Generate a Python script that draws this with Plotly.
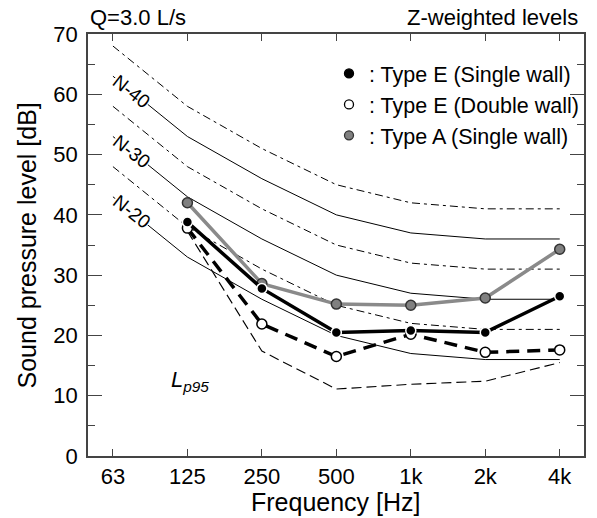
import plotly.graph_objects as go

# ---------------- data ----------------
freq_labels = ["63", "125", "250", "500", "1k", "2k", "4k"]
xi = list(range(len(freq_labels)))

N45 = [68, 58, 51, 45, 42, 41, 41]
N40 = [63, 53, 46, 40, 37, 36, 36]
N35 = [58, 48, 41, 35, 32, 31, 31]
N30 = [53, 43, 36, 30, 27, 26, 26]
N25 = [48, 38, 31, 25, 22, 21, 21]
N20 = [43, 33, 26, 20, 17, 16, 16]

Lp95 = [None, 37.3, 17.4, 11.1, 11.9, 12.4, 15.5]

typeE_single = [None, 38.8, 27.8, 20.5, 20.8, 20.5, 26.5]
typeE_double = [None, 37.8, 21.9, 16.5, 20.2, 17.2, 17.6]
typeA_single = [None, 42.0, 28.6, 25.2, 25.0, 26.2, 34.3]

font = "Liberation Sans, Arial, sans-serif"

fig = go.Figure()

# N-curves
for vals, solid in [(N45, False), (N40, True), (N35, False), (N30, True), (N25, False), (N20, True)]:
    fig.add_trace(go.Scatter(
        x=xi, y=vals, mode="lines", showlegend=False, hoverinfo="skip",
        line=dict(color="black", width=1, dash=None if solid else "8px,4px,3px,4px"),
    ))

# Lp95
fig.add_trace(go.Scatter(x=xi, y=Lp95, mode="lines", showlegend=False,
                         line=dict(color="black", width=1.1, dash="10px,5px")))

# series
fig.add_trace(go.Scatter(x=xi, y=typeA_single, mode="lines+markers", showlegend=False,
                         line=dict(color="#8a8a8a", width=3.5),
                         marker=dict(size=10, color="#808080", line=dict(color="#333333", width=1.5))))
fig.add_trace(go.Scatter(x=xi, y=typeE_double, mode="lines+markers", showlegend=False,
                         line=dict(color="black", width=3.5, dash="13px,8px"),
                         marker=dict(size=10, color="white", line=dict(color="black", width=1.5))))
fig.add_trace(go.Scatter(x=xi, y=typeE_single, mode="lines+markers", showlegend=False,
                         line=dict(color="black", width=3.5),
                         marker=dict(size=10, color="black", line=dict(color="white", width=1.5))))

# legend-only entries
leg = [
    (": Type E (Single wall)", "black", "black"),
    (": Type E (Double wall)", "white", "black"),
    (": Type A (Single wall)", "#808080", "#333333"),
]
for name, fc, lc in leg:
    fig.add_trace(go.Scatter(x=[None], y=[None], mode="markers", name=name,
                             marker=dict(size=9, color=fc, line=dict(color=lc, width=1.3))))

# N labels
def interp(vals, t):
    return vals[0] + t * (vals[1] - vals[0])

for txt, vals in [("N-40", N40), ("N-30", N30), ("N-20", N20)]:
    t = 0.25
    fig.add_annotation(x=t, y=interp(vals, t), text=txt, showarrow=False, textangle=38,
                       bgcolor="white", borderpad=0,
                       font=dict(family=font, size=19, color="black"))

fig.add_annotation(x=1.04, y=12.4, text="<i>L</i><sub><i>p95</i></sub>", showarrow=False,
                   font=dict(family=font, size=22, color="black"))

# titles
fig.add_annotation(xref="paper", yref="paper", x=0.0, y=1.0, xanchor="left", yanchor="middle",
                   text="Q=3.0 L/s", showarrow=False, yshift=17,
                   font=dict(family=font, size=22, color="black"))
fig.add_annotation(xref="paper", yref="paper", x=0.992, y=1.0, xanchor="right", yanchor="middle",
                   text="Z-weighted levels", showarrow=False, yshift=17,
                   font=dict(family=font, size=22, color="black"))
fig.add_annotation(xref="paper", yref="paper", x=-0.122, y=0.5, xanchor="center", yanchor="middle",
                   text="Sound pressure level [dB]", textangle=-90, showarrow=False,
                   font=dict(family=font, size=25, color="black"))
fig.add_annotation(xref="paper", yref="paper", x=0.5, y=-0.11, xanchor="center", yanchor="middle",
                   text="Frequency [Hz]", showarrow=False,
                   font=dict(family=font, size=25, color="black"))

axis_color = "#444444"
fig.update_layout(
    width=597, height=518,
    margin=dict(l=88, r=13, t=34, b=62),
    paper_bgcolor="white", plot_bgcolor="white",
    font=dict(family=font, size=20, color="black"),
    xaxis=dict(range=[-0.335, 6.326], tickmode="array", tickvals=xi, ticktext=freq_labels,
               showgrid=False, zeroline=False, showline=True, linecolor=axis_color, linewidth=1.5,
               mirror="ticks", ticks="inside", ticklen=7, tickwidth=1.2, tickcolor=axis_color,
               tickfont=dict(family=font, size=22, color="black")),
    yaxis=dict(range=[0, 70], tickmode="linear", tick0=0, dtick=10,
               showgrid=False, zeroline=False, showline=True, linecolor=axis_color, linewidth=1.5,
               mirror="ticks", ticks="inside", ticklen=14, tickwidth=1.2, tickcolor=axis_color,
               ticklabelstandoff=4,
               minor=dict(dtick=5, tick0=0, ticks="inside", ticklen=7, tickwidth=1.2, tickcolor=axis_color),
               tickfont=dict(family=font, size=22, color="black")),
    legend=dict(x=1.0, y=0.955, xanchor="right", yanchor="top", bgcolor="rgba(0,0,0,0)",
                font=dict(family=font, size=21.5, color="black"), itemwidth=30,
                tracegroupgap=0),
    showlegend=True,
)

fig.write_html("out.html")
